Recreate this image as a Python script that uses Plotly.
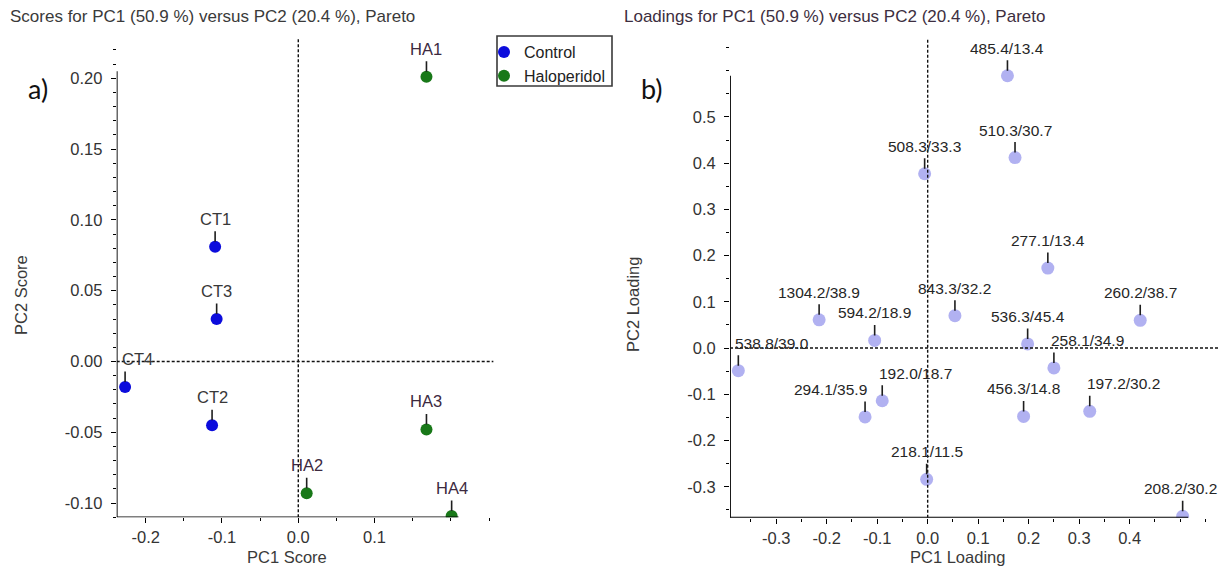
import plotly.graph_objects as go

# ---------------- data ----------------
# PCA scores (PC1, PC2) per sample
control_names = ["CT1", "CT2", "CT3", "CT4"]
control_pc1 = [-0.109, -0.113, -0.107, -0.227]
control_pc2 = [0.081, -0.045, 0.030, -0.018]

halo_names = ["HA1", "HA2", "HA3", "HA4"]
halo_pc1 = [0.168, 0.011, 0.168, 0.201]
halo_pc2 = [0.201, -0.093, -0.048, -0.109]

# PCA loadings (m/z / retention time)
loading_names = ["485.4/13.4", "510.3/30.7", "508.3/33.3", "277.1/13.4",
                 "1304.2/38.9", "594.2/18.9", "843.3/32.2", "536.3/45.4",
                 "260.2/38.7", "538.8/39.0", "258.1/34.9", "192.0/18.7",
                 "294.1/35.9", "456.3/14.8", "197.2/30.2", "218.1/11.5",
                 "208.2/30.2"]
loading_pc1 = [0.158, 0.173, -0.006, 0.238, -0.215, -0.105, 0.054, 0.198,
               0.421, -0.375, 0.250, -0.090, -0.124, 0.190, 0.321, -0.002,
               0.505]
loading_pc2 = [0.589, 0.412, 0.377, 0.173, 0.061, 0.0165, 0.070, 0.009,
               0.060, -0.049, -0.043, -0.114, -0.149, -0.148, -0.137, -0.284,
               -0.364]

# tick labels
score_x_ticks = [-0.2, -0.1, 0.0, 0.1]
score_x_text = ["-0.2", "-0.1", "0.0", "0.1"]
score_y_ticks = [0.20, 0.15, 0.10, 0.05, 0.00, -0.05, -0.10]
score_y_text = ["0.20", "0.15", "0.10", "0.05", "0.00", "-0.05", "-0.10"]
load_x_ticks = [-0.3, -0.2, -0.1, 0.0, 0.1, 0.2, 0.3, 0.4]
load_x_text = ["-0.3", "-0.2", "-0.1", "0.0", "0.1", "0.2", "0.3", "0.4"]
load_y_ticks = [0.5, 0.4, 0.3, 0.2, 0.1, 0.0, -0.1, -0.2, -0.3]
load_y_text = ["0.5", "0.4", "0.3", "0.2", "0.1", "0.0", "-0.1", "-0.2", "-0.3"]

# ---------------- styling ----------------
FONT = "Liberation Sans, Arial, sans-serif"
TXT = "#333333"
BLUE = "#0c0cdc"
GREEN = "#187818"
LAV = "rgba(125,125,232,0.6)"

# label placement relative to its point (default centred)
score_side = {"CT4": "left"}
load_side = {"538.8/39.0": "left", "258.1/34.9": "left", "192.0/18.7": "left",
             "197.2/30.2": "left", "294.1/35.9": "right", "208.2/30.2": "edge"}
SIDE_ANCHOR = {"left": "left", "right": "right", "edge": "right"}
SIDE_SHIFT = {"left": -5, "right": 4, "edge": 36}

# axis extents (data frame of each panel) and plot-area extents
S_XAX = (-0.238, 0.210)
S_YAX = (-0.110, 0.205)
S_XR = (-0.238, 0.256)
S_YR = (-0.110, 0.2284)
L_XAX = (-0.3915, 0.516)
L_YAX = (-0.367, 0.589)
L_XR = (-0.3915, 0.577)
L_YR = (-0.367, 0.670)

fig = go.Figure()

fig.add_trace(go.Scatter(
    x=control_pc1, y=control_pc2, mode="markers", name="Control",
    marker=dict(color=BLUE, size=12, line=dict(width=0)),
    xaxis="x", yaxis="y"))
fig.add_trace(go.Scatter(
    x=halo_pc1, y=halo_pc2, mode="markers", name="Haloperidol",
    marker=dict(color=GREEN, size=12, line=dict(width=0)),
    xaxis="x", yaxis="y"))
fig.add_trace(go.Scatter(
    x=loading_pc1, y=loading_pc2, mode="markers", showlegend=False,
    marker=dict(color=LAV, size=13, line=dict(width=0)),
    xaxis="x2", yaxis="y2"))

annotations = []
shapes = []


def point_label(x, y, text, xref, yref, side, color, size):
    # short leader tick from the marker up to the label
    annotations.append(dict(
        x=x, y=y, xref=xref, yref=yref, text="", showarrow=True,
        arrowhead=0, arrowwidth=1.6, arrowcolor="#1e1e1e",
        ax=0, ay=-17, standoff=5))
    annotations.append(dict(
        x=x, y=y, xref=xref, yref=yref, text=text, showarrow=False,
        xanchor=SIDE_ANCHOR.get(side, "center"), yanchor="bottom",
        xshift=SIDE_SHIFT.get(side, 0), yshift=17,
        font=dict(family=FONT, size=size, color=color)))


for n, x, y in zip(control_names, control_pc1, control_pc2):
    point_label(x, y, n, "x", "y", score_side.get(n), "#383838", 16.5)
for n, x, y in zip(halo_names, halo_pc1, halo_pc2):
    point_label(x, y, n, "x", "y", score_side.get(n), "#3d2a3f", 16.5)
for n, x, y in zip(loading_names, loading_pc1, loading_pc2):
    point_label(x, y, n, "x2", "y2", load_side.get(n), "#262626", 15.5)


def frame(xref, yref, xax, yax, xr, yr):
    # solid axis lines spanning the data frame
    shapes.append(dict(type="line", xref=xref, yref=yref, x0=xax[0], x1=xax[1],
                       y0=yax[0], y1=yax[0], line=dict(color="black", width=1.8)))
    shapes.append(dict(type="line", xref=xref, yref=yref, x0=xax[0], x1=xax[0],
                       y0=yax[0], y1=yax[1], line=dict(color="black", width=1.8)))
    # dotted origin lines
    shapes.append(dict(type="line", xref=xref, yref=yref, x0=0, x1=0,
                       y0=yr[0], y1=yr[1],
                       line=dict(color="#111111", width=1.4, dash="3px,2px")))
    shapes.append(dict(type="line", xref=xref, yref=yref, x0=xr[0], x1=xr[1],
                       y0=0, y1=0,
                       line=dict(color="#111111", width=1.4, dash="3px,2px")))


frame("x", "y", S_XAX, S_YAX, S_XR, S_YR)
frame("x2", "y2", L_XAX, L_YAX, L_XR, L_YR)

tickfont = dict(family=FONT, size=16.5, color=TXT)


def axis(domain, rng, vals, text, anchor, minor_dtick, standoff):
    return dict(domain=domain, range=list(rng), anchor=anchor,
                tickmode="array", tickvals=vals, ticktext=text,
                ticks="outside", ticklen=5, tickwidth=1.4, tickcolor="black",
                ticklabelstandoff=standoff,
                minor=dict(tickmode="linear", tick0=0, dtick=minor_dtick,
                           ticks="outside", ticklen=3, tickwidth=1.2,
                           tickcolor="black", showgrid=False),
                showline=False, showgrid=False, zeroline=False,
                tickfont=tickfont, fixedrange=True)


W, H = 1219, 567
fig.update_layout(
    width=W, height=H, margin=dict(l=0, r=0, t=0, b=0),
    paper_bgcolor="white", plot_bgcolor="white",
    xaxis=axis([116.7 / W, 493.6 / W], S_XR, score_x_ticks, score_x_text, "y", 0.05, 0),
    yaxis=axis([1 - 517.3 / H, 1 - 38 / H], S_YR, score_y_ticks, score_y_text, "x", 0.01, 5),
    xaxis2=axis([730 / W, 1.0], L_XR, load_x_ticks, load_x_text, "y2", 0.05, 0),
    yaxis2=axis([1 - 517.7 / H, 1 - 38.3 / H], L_YR, load_y_ticks, load_y_text, "x2", 0.05, 5),
    showlegend=True,
    legend=dict(x=484 / W, y=1 - 35 / H, xanchor="left", yanchor="top",
                bgcolor="rgba(0,0,0,0)", borderwidth=0,
                font=dict(family=FONT, size=16, color="#222222"),
                itemsizing="constant", tracegroupgap=0),
)

# legend frame
shapes.append(dict(type="rect", xref="paper", yref="paper",
                   x0=497 / W, x1=612 / W, y0=1 - 86 / H, y1=1 - 36 / H,
                   line=dict(color="#3a3a3a", width=1.6)))


# titles, axis titles, panel letters
def paper_text(px, py, text, size, color, xanchor="left", angle=0, family=FONT):
    annotations.append(dict(x=px / W, y=1 - py / H, xref="paper", yref="paper",
                            text=text, showarrow=False, xanchor=xanchor,
                            yanchor="middle", textangle=angle,
                            font=dict(family=family, size=size, color=color)))


paper_text(8, 17, "Scores for PC1 (50.9 %) versus PC2 (20.4 %), Pareto", 17, "#3a3a3a")
paper_text(622, 17, "Loadings for PC1 (50.9 %) versus PC2 (20.4 %), Pareto", 17, "#3d2e40")
paper_text(287, 557, "PC1 Score", 16.5, "#3a3a3a", "center")
paper_text(957, 557, "PC1 Loading", 16.5, "#3a3a3a", "center")
paper_text(21, 295, "PC2 Score", 16.5, "#3a3a3a", "center", -90)
paper_text(633, 305, "PC2 Loading", 16.5, "#3a3a3a", "center", -90)
paper_text(26, 89, "a)", 27, "#111111", family="Lato, Calibri, sans-serif")
paper_text(639, 88, "b)", 27, "#111111", family="Lato, Calibri, sans-serif")

fig.update_layout(annotations=annotations, shapes=shapes)

fig.write_html("out.html")
